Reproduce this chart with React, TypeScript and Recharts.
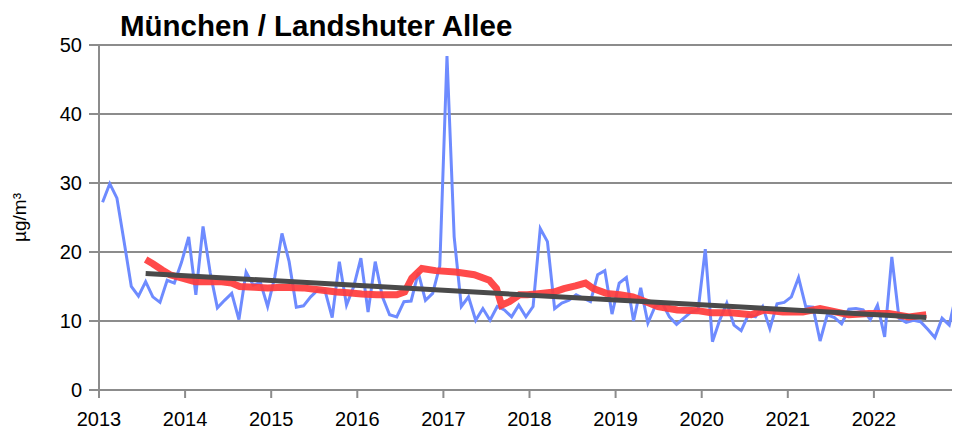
import { LineChart, Line, XAxis, YAxis, CartesianGrid, Label } from 'recharts'

// monthly means, Jan 2013 .. Dec 2022 (µg/m³)
const monthly = [
  27.2, 29.9, 27.8, 21.5, 15.0, 13.6, 15.7, 13.5, 12.7, 15.9, 15.5, 18.5, // 2013
  22.2, 13.8, 23.7, 17.0, 11.9, 13.0, 14.0, 10.2, 17.1, 15.2, 15.6, 12.1, // 2014
  16.4, 22.7, 18.6, 12.0, 12.2, 13.5, 14.5, 14.4, 10.5, 18.6, 12.3, 15.0, // 2015
  19.1, 11.3, 18.6, 13.5, 10.9, 10.6, 12.8, 12.9, 17.0, 13.0, 14.0, 18.0, // 2016
  48.4, 22.2, 12.1, 13.5, 10.1, 11.8, 10.1, 12.1, 11.6, 10.6, 12.3, 10.6, // 2017
  12.1, 23.4, 21.5, 11.8, 12.6, 13.0, 13.8, 13.3, 12.8, 16.7, 17.3, 11.0, // 2018
  15.5, 16.3, 10.0, 14.8, 9.7, 12.1, 12.6, 10.6, 9.5, 10.4, 11.3, 11.6, // 2019
  20.4, 7.0, 10.1, 12.6, 9.4, 8.6, 10.9, 10.6, 12.1, 8.9, 12.5, 12.7, // 2020
  13.5, 16.3, 12.1, 12.0, 7.1, 10.9, 10.5, 9.6, 11.7, 11.8, 11.6, 10.2, // 2021
  12.3, 7.7, 19.3, 10.4, 9.8, 10.1, 9.9, 8.8, 7.6, 10.4, 9.4, 14.0, // 2022
]

// 12-month running mean (month index from Jan 2013)
const runMonths = [
  6, 7, 8.3, 9.4, 11.1, 12.9, 14.7, 16.6, 18, 19.1, 21.2, 23, 25, 27.9, 30.4,
  32.6, 34.2, 36.1, 38.2, 41, 42.1, 43.1, 44.5, 46.4, 49.2, 51.8, 53.9, 54.9,
  55.6, 56.7, 58.1, 59.2, 61.1, 62.9, 64.3, 65.9, 67.3, 68.4, 70.2, 72.1, 73.9,
  75.7, 77.4, 80.1, 82.9, 84.8, 87.6, 90.4, 92.2, 94.8, 97.6, 100, 104, 106.8,
  109.6, 112.4, 114.8,
]
const runValues = [
  18.9, 18.3, 17.4, 16.7, 16.2, 15.7, 15.7, 15.7, 15.5, 15.0, 14.9, 14.8, 14.9,
  14.8, 14.5, 14.2, 14.1, 13.9, 13.8, 13.8, 14.2, 16.2, 17.6, 17.3, 17.1, 16.7,
  15.9, 14.7, 12.3, 12.8, 13.8, 13.8, 14.0, 14.2, 14.7, 15.1, 15.5, 14.7, 14.0,
  13.8, 13.5, 12.8, 12.1, 11.6, 11.5, 11.2, 11.2, 10.9, 11.6, 11.3, 11.3, 11.8,
  10.9, 11.1, 11.1, 10.6, 10.9,
]

// linear trend
const trendMonths = [6, 114.8]
const trendValues = [16.9, 10.5]

const years = [2013, 2014, 2015, 2016, 2017, 2018, 2019, 2020, 2021, 2022]
const yTicks = [0, 10, 20, 30, 40, 50]

const toYear = (m: number) => 2013 + (m + 0.5) / 12

const monthlyData = monthly.map((v, i) => ({ x: toYear(i), v }))
const runData = runMonths.map((m, i) => ({ x: toYear(m), v: runValues[i] }))
const trendData = trendMonths.map((m, i) => ({ x: toYear(m), v: trendValues[i] }))

const font = '"Liberation Sans", Arial, sans-serif'
const gridColor = '#8c8c8c'

export default function App() {
  return (
    <div style={{ position: 'relative', width: 952, height: 431, fontFamily: font }}>
      <div
        style={{
          position: 'absolute',
          left: 112,
          top: 1,
          fontSize: 29.5,
          lineHeight: '33px',
          fontWeight: 'bold',
          color: '#000',
          whiteSpace: 'nowrap',
        }}
      >
        München / Landshuter Allee
      </div>
      <LineChart width={952} height={431} margin={{ top: 37, right: 0, bottom: 9, left: 0 }}>
        <CartesianGrid vertical={false} stroke={gridColor} strokeWidth={2} />
        <XAxis
          type="number"
          dataKey="x"
          domain={[2013, 2023]}
          ticks={years}
          allowDataOverflow
          height={40}
          stroke={gridColor}
          strokeWidth={2}
          tickSize={8}
          tickMargin={14}
          tick={{ fill: '#000', fontSize: 20, fontFamily: font }}
          interval={0}
        />
        <YAxis
          type="number"
          domain={[0, 50]}
          ticks={yTicks}
          width={91}
          stroke={gridColor}
          strokeWidth={2}
          tickSize={10}
          tickMargin={7}
          tick={{ fill: '#000', fontSize: 20, fontFamily: font }}
        >
          <Label
            value="µg/m³"
            angle={-90}
            position="insideLeft"
            offset={11}
            style={{ fill: '#000', fontSize: 19, fontFamily: font, textAnchor: 'middle' }}
          />
        </YAxis>
        <Line
          data={monthlyData}
          dataKey="v"
          type="linear"
          stroke="#6E8BFF"
          strokeWidth={3}
          dot={false}
          isAnimationActive={false}
        />
        <Line
          data={runData}
          dataKey="v"
          type="linear"
          stroke="#FF3B3B"
          strokeOpacity={0.92}
          strokeWidth={7}
          dot={false}
          isAnimationActive={false}
        />
        <Line
          data={trendData}
          dataKey="v"
          type="linear"
          stroke="#4a4a4a"
          strokeWidth={5}
          dot={false}
          isAnimationActive={false}
        />
      </LineChart>
    </div>
  )
}
